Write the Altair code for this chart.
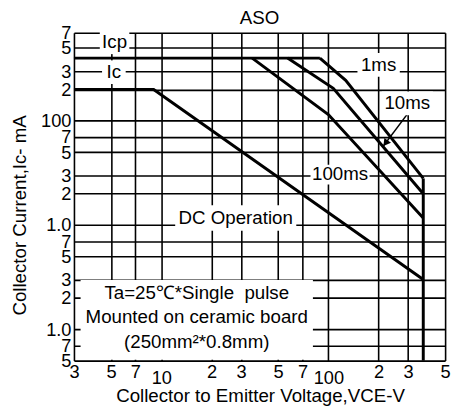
import json
import altair as alt
import pandas as pd

# ---------------- data ----------------
x_tick_values = [3, 5, 7, 10, 20, 30, 50, 70, 100, 200, 300, 500]
x_tick_labels = ["3", "5", "7", "10", "2", "3", "5", "7", "100", "2", "3", "5"]
y_tick_values = [0.5, 0.7, 1, 2, 3, 5, 7, 10, 20, 30, 50, 70, 100, 200, 300, 500, 700]
y_tick_labels = ["5", "7", "1.0", "2", "3", "5", "7", "1.0", "2", "3", "5", "7",
                 "100", "2", "3", "5", "7"]

# SOA boundaries: VCE (V) / Ic (mA)
icp_v = [3, 89]
icp_i = [400, 400]
ms1_v = [89, 127, 370]
ms1_i = [400, 245, 28]
ms10_v = [57, 107, 370]
ms10_i = [400, 205, 20]
ms100_v = [35, 100, 370]
ms100_i = [400, 115, 11.7]
dc_v = [3, 9, 370]
dc_i = [200, 200, 3]
vceo_v = [370, 370]
vceo_i = [28, 0.5]

label_texts = ["Icp", "Ic", "1ms", "10ms", "100ms", "DC Operation"]
label_v = [5.25, 5.2, 200, 297, 117.5, 27.9]
label_i = [567, 293, 344, 147, 30.5, 11.7]

arrow_from = (297, 116)
arrow_to = (213, 57)
arrow_head = (220, 61)

note_text = "Ta=25\u2103*Single\u00a0 pulse\nMounted on ceramic board\n(250mm\u00b2*0.8mm)"
note_pos = (16.3, 2.24)

title_text = "ASO"
x_title = "Collector to Emitter Voltage,VCE-V"
y_title = "Collector Current,Ic- mA"

# ---------------- build tables ----------------
series = {
    "Icp": (icp_v, icp_i),
    "1ms": (ms1_v, ms1_i),
    "10ms": (ms10_v, ms10_i),
    "100ms": (ms100_v, ms100_i),
    "DC": (dc_v, dc_i),
    "VCEO": (vceo_v, vceo_i),
}
rows = []
for name, (vs, cs) in series.items():
    for k, (v, c) in enumerate(zip(vs, cs)):
        rows.append({"series": name, "idx": k, "v": v, "i": c})
lines_df = pd.DataFrame(rows)
labels_df = pd.DataFrame({"text": label_texts, "v": label_v, "i": label_i})
arrow_df = pd.DataFrame({"v": [arrow_from[0]], "i": [arrow_from[1]],
                         "v2": [arrow_to[0]], "i2": [arrow_to[1]]})
head_df = pd.DataFrame({"v": [arrow_head[0]], "i": [arrow_head[1]]})
note_df = pd.DataFrame({"text": [note_text], "v": [note_pos[0]], "i": [note_pos[1]]})

# ---------------- styling ----------------
FONT = "Liberation Sans"
xscale = alt.Scale(type="log", domain=[3, 500], nice=False)
yscale = alt.Scale(type="log", domain=[0.5, 700], nice=False)

xaxis = alt.Axis(
    values=x_tick_values,
    labelExpr=f"{json.dumps(x_tick_labels)}[indexof({json.dumps(x_tick_values)}, datum.value)]",
    title=x_title, grid=True, gridColor="black", gridWidth=1.6, gridOpacity=1,
    ticks=False, domain=False, labelFlush=False, labelOverlap=False,
    labelFontSize=18.5, labelColor="black", labelBaseline="top",
    labelPadding={"condition": {"test": "datum.value == 10 || datum.value == 100", "value": 8}, "value": 2},
    titleFontSize=19, titleFontWeight="normal", titleColor="black",
    titleX=189, titleY=42, titleBaseline="alphabetic", titleAlign="center",
)
yaxis = alt.Axis(
    values=y_tick_values,
    labelExpr=f"{json.dumps(y_tick_labels)}[indexof({json.dumps(y_tick_values)}, datum.value)]",
    title=y_title, grid=True, gridColor="black", gridWidth=1.6, gridOpacity=1,
    ticks=False, domain=False, labelFlush=False, labelOverlap=False,
    labelFontSize=18.5, labelColor="black", labelPadding=3,
    titleFontSize=19, titleFontWeight="normal", titleColor="black",
    titleX=-49, titleY=185, titleAngle=270, titleBaseline="alphabetic", titleAlign="center",
)


def X(f):
    return alt.X(f, type="quantitative", scale=xscale, axis=xaxis)


def Y(f):
    return alt.Y(f, type="quantitative", scale=yscale, axis=yaxis)


lines = alt.Chart(lines_df).mark_line(color="black", strokeWidth=3).encode(
    x=X("v"), y=Y("i"), detail="series:N", order="idx:Q"
)

arrow = alt.Chart(arrow_df).mark_rule(color="black", strokeWidth=1.5).encode(
    x=X("v"), y=Y("i"), x2="v2", y2="i2"
)
head = alt.Chart(head_df).mark_point(
    shape="triangle-up", filled=True, color="black", size=70, angle=217, opacity=1
).encode(x=X("v"), y=Y("i"))

box_size = {"Icp": (30, 24), "Ic": (24, 24), "1ms": (43, 24), "10ms": (52, 24),
            "100ms": (60, 20), "DC Operation": (123, 26)}
boxes = []
for t, v, c in zip(label_texts, label_v, label_i):
    w, h = box_size[t]
    one = pd.DataFrame({"v": [v], "i": [c]})
    boxes.append(
        alt.Chart(one).mark_rect(
            color="white", xOffset=-w / 2, x2Offset=w / 2, yOffset=-h / 2, y2Offset=h / 2
        ).encode(x=X("v"), x2="v", y=Y("i"), y2="i")
    )

note_box = alt.Chart(note_df).mark_rect(
    color="white", xOffset=-118, x2Offset=118, yOffset=-13, y2Offset=68
).encode(x=X("v"), x2="v", y=Y("i"), y2="i")

texts = alt.Chart(labels_df).mark_text(
    font=FONT, fontSize=19, color="black", align="center", baseline="middle"
).encode(x=X("v"), y=Y("i"), text="text:N")

note = alt.Chart(note_df).mark_text(
    font=FONT, fontSize=19, color="black", align="center", baseline="middle",
    lineBreak="\n", lineHeight=25
).encode(x=X("v"), y=Y("i"), text="text:N")

chart = alt.layer(lines, arrow, head, *boxes, note_box, texts, note).properties(
    width=377, height=333,
    title=alt.TitleParams(title_text, font=FONT, fontSize=19, fontWeight="normal",
                          color="black", frame="group", anchor="middle",
                          offset=0, dy=4),
    autosize=alt.AutoSizeParams(type="none"),
    padding={"left": 67, "top": 22, "right": 7, "bottom": 47},
).configure_view(stroke="black", strokeWidth=2).configure_axis(
    labelFont=FONT, titleFont=FONT
).configure(background="white")

chart.save("out.html", embed_options={"renderer": "svg", "actions": False})
